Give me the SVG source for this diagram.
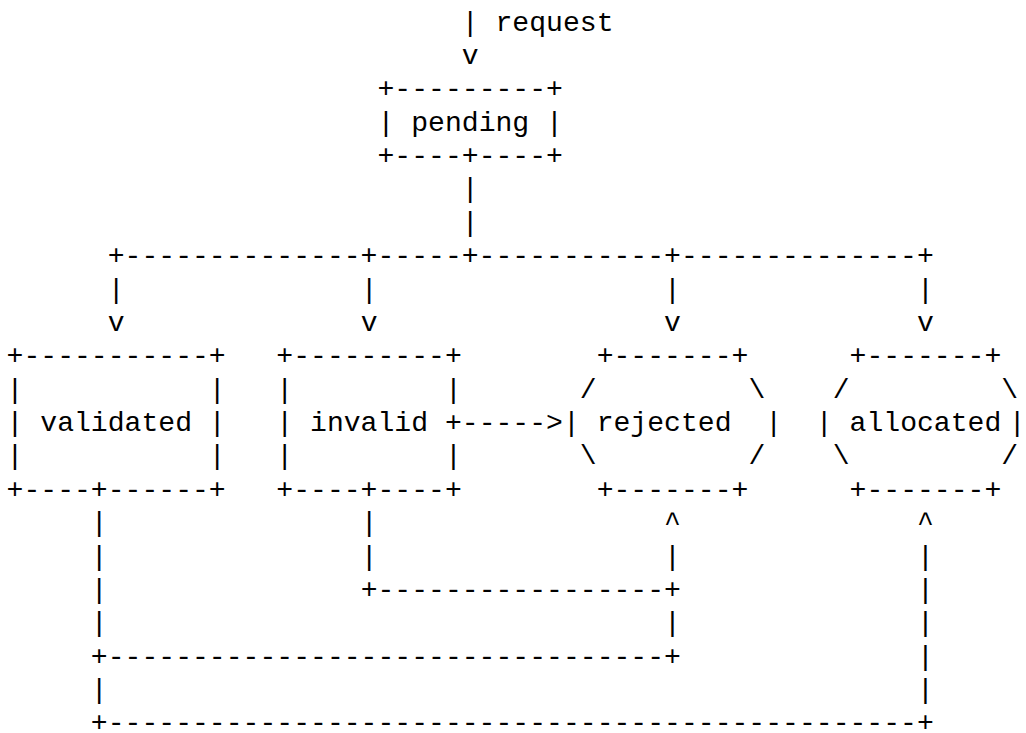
<svg xmlns="http://www.w3.org/2000/svg" width="1026" height="733" viewBox="0 0 1026 733">
<style>
text{font-family:"Liberation Mono","Courier New",monospace;font-size:28.1px;fill:#000;white-space:pre}
</style>
<rect width="1026" height="733" fill="#fff"/>
<g id="connectors">
<text x="461.79" y="30.6" xml:space="preserve">| request</text>
<text x="461.79" y="63.97">v</text>
<text x="461.79" y="197.45">|</text>
<text x="461.79" y="230.82">|</text>
<text x="107.73" y="264.19">+--------------+-----+-----------+--------------+</text>
<text x="107.73" y="297.56">|</text>
<text x="360.63" y="297.56">|</text>
<text x="664.11" y="297.56">|</text>
<text x="917.01" y="297.56">|</text>
<text x="107.73" y="330.93">v</text>
<text x="360.63" y="330.93">v</text>
<text x="664.11" y="330.93">v</text>
<text x="917.01" y="330.93">v</text>
<text x="461.79" y="431.04">-----&gt;</text>
<text x="90.87" y="531.15">|</text>
<text x="360.63" y="531.15">|</text>
<text x="664.11" y="531.15">^</text>
<text x="917.01" y="531.15">^</text>
<text x="90.87" y="564.52">|</text>
<text x="360.63" y="564.52">|</text>
<text x="664.11" y="564.52">|</text>
<text x="917.01" y="564.52">|</text>
<text x="90.87" y="597.89">|</text>
<text x="360.63" y="597.89">+-----------------+</text>
<text x="917.01" y="597.89">|</text>
<text x="90.87" y="631.26">|</text>
<text x="664.11" y="631.26">|</text>
<text x="917.01" y="631.26">|</text>
<text x="90.87" y="664.63">+---------------------------------+</text>
<text x="917.01" y="664.63">|</text>
<text x="90.87" y="698">|</text>
<text x="917.01" y="698">|</text>
<text x="90.87" y="731">+------------------------------------------------+</text>
</g>
<g id="pending">
<text x="377.49" y="97.34">+---------+</text>
<text x="377.49" y="130.71" xml:space="preserve">| pending |</text>
<text x="377.49" y="164.08">+----+----+</text>
</g>
<g id="validated">
<text x="6.57" y="364.3">+-----------+</text>
<text x="6.57" y="397.67" xml:space="preserve">|           |</text>
<text x="6.57" y="431.04" xml:space="preserve">| validated |</text>
<text x="6.57" y="464.41" xml:space="preserve">|           |</text>
<text x="6.57" y="497.78">+----+------+</text>
</g>
<g id="invalid">
<text x="276.33" y="364.3">+---------+</text>
<text x="276.33" y="397.67" xml:space="preserve">|         |</text>
<text x="276.33" y="431.04" xml:space="preserve">| invalid +</text>
<text x="276.33" y="464.41" xml:space="preserve">|         |</text>
<text x="276.33" y="497.78">+----+----+</text>
</g>
<g id="rejected">
<text x="596.67" y="364.3">+-------+</text>
<text x="579.81" y="397.67" xml:space="preserve">/         \</text>
<text x="562.95" y="431.04" xml:space="preserve">| rejected  |</text>
<text x="579.81" y="464.41" xml:space="preserve">\         /</text>
<text x="596.67" y="497.78">+-------+</text>
</g>
<g id="allocated">
<text x="849.57" y="364.3">+-------+</text>
<text x="832.71" y="397.67" xml:space="preserve">/         \</text>
<text x="815.85" y="431.04" xml:space="preserve">| allocated</text>
<text x="1025.5" y="431.04" text-anchor="end">|</text>
<text x="832.71" y="464.41" xml:space="preserve">\         /</text>
<text x="849.57" y="497.78">+-------+</text>
</g>
</svg>
